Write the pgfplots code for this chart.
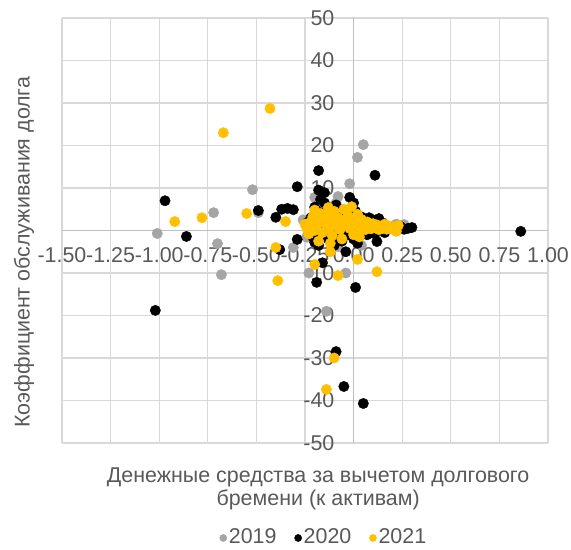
\documentclass[border=0pt]{standalone}
\usepackage{pgfplots}
\pgfplotsset{compat=1.18}
\usepackage{fontspec}
\setmainfont{Liberation Sans}
\definecolor{txt}{HTML}{595959}
\definecolor{grd}{HTML}{D9D9D9}
\definecolor{axl}{HTML}{BFBFBF}
\definecolor{c19}{HTML}{A5A5A5}
\definecolor{c20}{HTML}{000000}
\definecolor{c21}{HTML}{FFC000}
\newcommand{\chfont}{\fontsize{21.5}{23}\selectfont}
\begin{document}
\chfont
\begin{tikzpicture}
\begin{axis}[
  scale only axis, width=486bp, height=425bp,
  xmin=-1.5, xmax=1.0, ymin=-50, ymax=50,
  axis lines=middle,
  axis line style={-, draw=axl, line width=1.3bp},
  hide obscured x ticks=false, hide obscured y ticks=false,
  xtick={-1.5,-1.25,-1,-0.75,-0.5,-0.25,0,0.25,0.5,0.75,1},
  ytick={-50,-40,-30,-20,-10,0,10,20,30,40,50},
  major tick length=0pt,
  grid=major, grid style={draw=grd, line width=1.2bp},
  /pgf/number format/assume math mode=true,
  tick label style={font=\chfont, text=txt, inner sep=0pt},
  xticklabel style={anchor=north, yshift=-17bp, /pgf/number format/.cd, fixed, fixed zerofill, precision=2},
  yticklabel style={anchor=east, xshift=-19bp, /pgf/number format/.cd, fixed, precision=0},
  xlabel={Денежные средства за вычетом долгового\\бремени (к активам)},
  xlabel style={at={(axis description cs:0.527,-0.108)}, anchor=center, align=center, text=txt, font=\chfont},
  ylabel={Коэффициент обслуживания долга},
  ylabel style={at={(axis description cs:-0.078,0.449)}, anchor=center, rotate=90, text=txt, font=\chfont},
  legend style={at={(axis description cs:0.539,-0.2235)}, anchor=center, draw=none, fill=none,
    legend columns=-1, font=\chfont, text=txt,
    /tikz/every even column/.append style={column sep=16bp},
    nodes={inner xsep=2bp}, inner sep=0pt},
  legend image code/.code={\draw[#1, mark size=3.6bp] plot coordinates {(0.12cm,0cm)};},
  every axis plot/.append style={only marks, mark=*, mark size=5.2bp},
]
\coordinate (bl) at (rel axis cs:0,0);
% 2019
\addplot[c19, mark options={draw=c19, fill=c19}] coordinates {
(0.05,20.2)(0.02,17.2)(-0.02,11.0)(-0.52,9.6)(-0.72,4.2)(-1.01,-0.7)(-0.70,-3.1)(-0.68,-10.4)
(-0.49,4.2)(-0.14,-19.0)(-0.31,-4.0)(-0.23,-10.0)(-0.04,-10.0)(0.04,-3.5)(-0.08,-3.8)(-0.08,8.0)
(-0.20,7.8)(0.26,1.4)(-0.24,-1.4)(-0.24,-1.6)(-0.15,3.0)(-0.10,1.0)(-0.05,2.0)(0.00,0.5)(0.05,1.5)
(0.10,0.8)(0.15,0.3)(0.20,1.0)(-0.18,0.5)(-0.12,5.5)(-0.03,-1.0)(0.08,-0.5)(0.22,1.5)(-0.26,2.5)
(-0.09,6.5)(-0.13,-2.0)(-0.17,9.0)(0.02,3.0)
};
% 2020
\addplot[c20, mark options={draw=c20, fill=c20}] coordinates {
(0.86,-0.2)(-0.97,7.0)(-0.86,-1.4)(-1.02,-18.8)(-0.49,4.7)(-0.09,-28.5)(-0.05,-36.7)(0.05,-40.7)
(-0.18,14.1)(0.11,13.0)(-0.29,10.3)(-0.37,5.0)(-0.34,5.2)(-0.40,3.1)(-0.31,4.9)(-0.15,8.9)
(-0.17,7.3)(-0.02,7.8)(0.30,0.7)(0.12,-2.6)(-0.29,-2.1)(-0.20,-2.8)(-0.19,-12.2)(0.01,-13.4)
(-0.38,-4.5)(-0.16,-7.6)(-0.04,-5.0)
(-0.22,3.0)(-0.20,5.5)(-0.19,1.0)(-0.18,9.5)(-0.17,4.2)(-0.16,-1.0)(-0.15,6.5)(-0.14,2.0)
(-0.13,-2.0)(-0.12,4.8)(-0.11,0.5)(-0.10,-3.5)(-0.09,6.0)(-0.08,-1.5)(-0.07,3.0)(-0.06,-2.5)
(-0.05,1.0)(-0.04,4.0)(-0.03,-1.0)(-0.02,2.5)(0.00,-2.0)(0.01,4.5)(0.02,0.5)(0.03,-1.2)
(0.04,3.2)(0.05,-0.5)(0.06,2.0)(0.07,-1.0)(0.08,3.0)(0.09,0.0)(0.10,2.5)(0.11,-0.8)(0.12,1.5)
(0.13,2.8)(0.14,0.2)(0.15,1.8)(0.16,-0.5)(0.17,1.0)(0.19,0.5)(0.21,0.2)(0.24,1.0)(0.26,0.3)
(0.28,0.5)(-0.24,1.8)(-0.21,-1.5)(-0.18,-3.5)(0.00,6.5)(0.02,-3.0)
};
% 2021
\addplot[c21, mark options={draw=c21, fill=c21}] coordinates {
(-0.43,28.7)(-0.67,23.0)(-0.92,2.1)(-0.78,3.0)(-0.55,4.0)(-0.35,2.1)(-0.40,-4.0)(-0.39,-11.8)
(-0.20,-8.0)(-0.12,-5.0)(-0.08,-10.6)(0.12,-9.7)(0.02,-6.8)(-0.10,-30.0)(-0.14,-37.4)(-0.13,5.4)
(-0.01,5.6)
(-0.25,1.5)(-0.24,0.5)(-0.22,2.0)(-0.21,3.2)(-0.20,0.0)(-0.19,1.2)(-0.18,2.8)(-0.17,4.0)
(-0.16,-0.5)(-0.15,1.8)(-0.14,3.5)(-0.13,0.6)(-0.12,2.5)(-0.11,-1.2)(-0.10,4.5)(-0.09,1.0)
(-0.08,3.0)(-0.07,0.2)(-0.06,2.2)(-0.05,5.0)(-0.04,1.5)(-0.03,3.5)(-0.02,0.5)(-0.01,2.5)
(0.00,-1.0)(0.01,1.8)(0.02,3.8)(0.03,0.8)(0.04,2.6)(0.05,1.2)(0.06,0.2)(0.07,2.0)(0.08,1.0)
(0.09,0.4)(0.10,1.6)(0.11,0.8)(0.12,1.3)(0.13,0.2)(0.14,1.0)(0.15,0.5)(0.16,1.5)(0.17,0.3)
(0.18,1.0)(0.19,0.4)(0.20,0.9)(0.21,0.2)(0.22,0.7)(0.23,1.2)(0.22,-0.2)(-0.23,-0.8)
(-0.18,-2.5)(-0.12,-3.0)(-0.06,-2.0)(0.03,-1.5)(-0.20,4.8)
};
\legend{2019,2020,2021}
\end{axis}
\path (bl) ++(-62bp,-103bp) rectangle ++(571bp,546bp);
\end{tikzpicture}
\end{document}
